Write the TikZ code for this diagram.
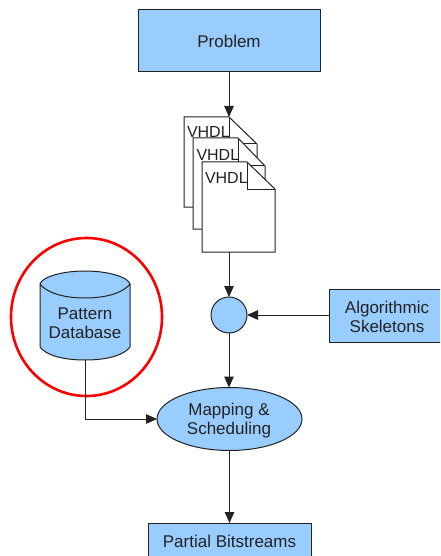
\documentclass[tikz,border=0pt]{standalone}
\usepackage{fontspec}
\setmainfont{Liberation Sans}
\usetikzlibrary{arrows.meta,shapes.geometric,calc}
\definecolor{fillblue}{HTML}{99CCFF}
\definecolor{ink}{HTML}{222222}
\tikzset{
  every node/.style={font=\fontsize{17}{19}\selectfont, text=ink, align=center, inner sep=0pt, outer sep=0pt},
  bluebox/.style={draw=ink, fill=fillblue, line width=1pt, rectangle},
  conn/.style={draw=ink, line width=1pt, -{Triangle[length=11pt,width=9.5pt]}},
  sheet/.style={draw=ink, fill=white, line width=1pt, line join=miter},
  foldline/.style={draw=ink, line width=1pt},
  sheetlabel/.style={anchor=west, font=\fontsize{16}{19}\selectfont},
}
\begin{document}
\begin{tikzpicture}[x=1pt,y=-1pt]
\useasboundingbox (0,0) rectangle (440,556);
\clip (0,0) rectangle (440,556);
% red ring
\draw[red, line width=2.6pt] (86.5,317) ellipse [x radius=75.5, y radius=79];
% boxes
\node[bluebox, minimum width=182pt, minimum height=62pt] (problem) at (229,41) {Problem};
\node[bluebox, minimum width=163pt, minimum height=50pt, anchor=north west] (bits) at (148,523) {};
\node (bitslabel) at (229.5,541) {Partial Bitstreams};
\node[bluebox, minimum width=130pt, minimum height=53pt, anchor=north west] (skel) at (329,289) {};
\node (skellabel) at (387,316.5) {Algorithmic\\Skeletons};
% document stack
\coordinate (doctop) at (229,117);
\coordinate (docfoot) at (229,252);
\draw[sheet] (184,207) -- (184,117) -- (229,117) -- (257,144) -- (257,207) -- cycle;
\draw[foldline] (229,117) -- (229,144) -- (257,144);
\node[sheetlabel] (vhdlA) at (187,132) {VHDL};
\draw[sheet] (193,229) -- (193,138) -- (238,138) -- (265,166) -- (265,229) -- cycle;
\draw[foldline] (238,138) -- (238,166) -- (265,166);
\node[sheetlabel] (vhdlB) at (196.5,155) {VHDL};
\draw[sheet] (202,252) -- (202,162) -- (247,162) -- (275,189) -- (275,252) -- cycle;
\draw[foldline] (247,162) -- (247,189) -- (275,189);
\node[sheetlabel] (vhdlC) at (205,177.5) {VHDL};
% join circle
\node[bluebox, circle, minimum size=36pt] (join) at (229,315) {};
% mapping ellipse
\node[bluebox, ellipse, minimum width=145pt, minimum height=63pt] (map) at (229.5,419) {};
\node (maplabel) at (229,420.5) {Mapping \&\\Scheduling};
% database cylinder
\node[minimum width=90pt, minimum height=89pt] (db) at (85,315.5) {};
\draw[bluebox, line join=round] (40,284)
  .. controls (42,277) and (62,271) .. (85,271)
  .. controls (108,271) and (128,277) .. (130,284)
  -- (130,347)
  .. controls (124,355) and (108,360) .. (85,360)
  .. controls (62,360) and (46,355) .. (40,347) -- cycle;
\draw[foldline] (40,284)
  .. controls (46,292) and (62,298) .. (85,298)
  .. controls (108,298) and (124,292) .. (130,284);
\node (dblabel) at (85,323) {Pattern\\Database};
% connectors
\draw[conn] (problem.south) -- (doctop);
\draw[conn] (docfoot) -- (join.north);
\draw[conn] (skel.west |- join.east) -- (join.east);
\draw[conn] (join.south) -- (join.south |- map.north);
\draw[conn] (db.south) |- (map.west);
\draw[conn] (map.south -| bits.north) -- (bits.north);
\end{tikzpicture}
\end{document}
